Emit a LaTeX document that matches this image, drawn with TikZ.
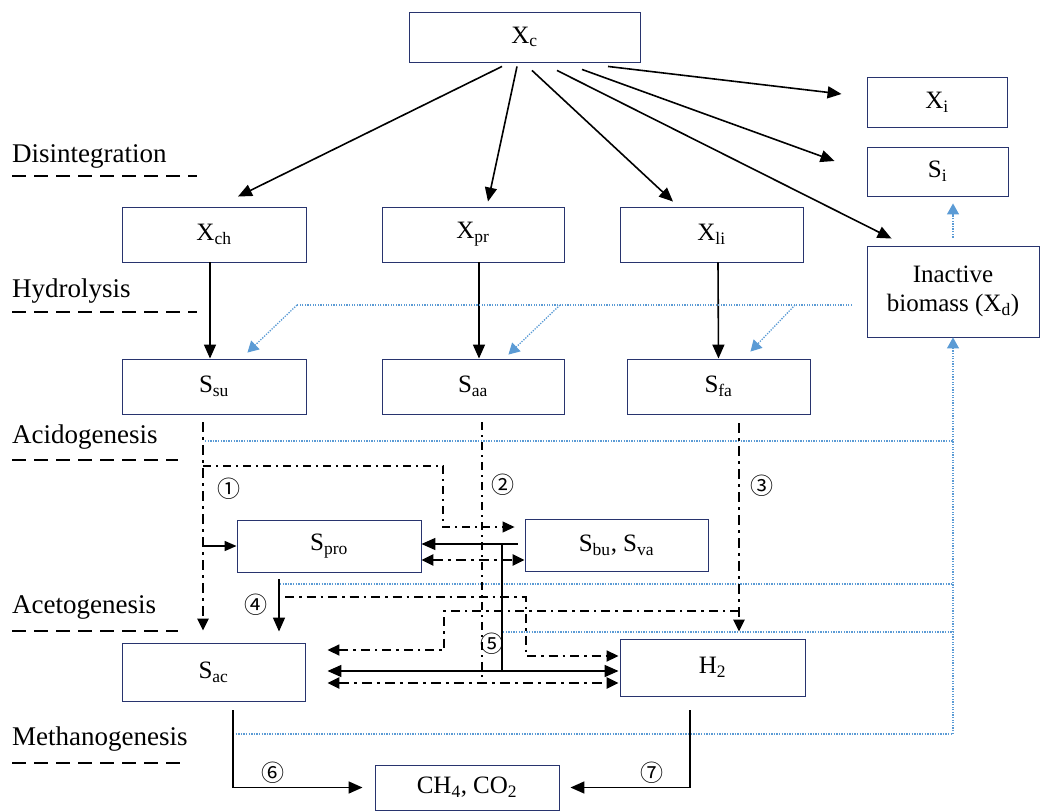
\documentclass[tikz,border=0pt]{standalone}
\usepackage{fontspec}
\setmainfont{Liberation Serif}
\newfontfamily\numfont{Noto Sans CJK SC}
\usetikzlibrary{calc,arrows.meta}
\definecolor{boxblue}{RGB}{40,52,110}
\definecolor{bioblue}{RGB}{91,155,213}
\tikzset{
    box/.style={draw=boxblue,line width=0.9pt,inner sep=0pt,minimum height=55pt,font=\fontsize{25}{29}\selectfont},
    phase/.style={font=\fontsize{27}{30}\selectfont,anchor=base west,inner sep=0pt},
    phaseline/.style={line width=2pt,dash pattern=on 14pt off 8pt},
    flow/.style={-{Triangle[length=14pt,width=12pt]},line width=1.6pt},
    smallflow/.style={-{Triangle[length=12pt,width=10pt]},line width=1.6pt},
    twoflow/.style={{Triangle[length=12pt,width=11pt]}-{Triangle[length=12pt,width=11pt]},line width=1.8pt},
    tipflow/.style={-{Triangle[length=12pt,width=11pt]}},
    dashdot/.style={line width=2.6pt,dash pattern=on 10pt off 5pt on 3pt off 5pt},
    thindashdot/.style={line width=1.2pt,dash pattern=on 8pt off 5pt on 2pt off 5pt},
    middashdot/.style={line width=1.8pt,dash pattern=on 9pt off 5pt on 2.5pt off 5pt},
    bio/.style={draw=bioblue,line width=1.3pt,dash pattern=on 1.3pt off 1.3pt},
    bioflow/.style={bio,-{Triangle[length=11pt,width=12pt]}},
    stepnum/.style={font=\numfont\fontsize{23}{24}\selectfont,inner sep=0pt}
}
\begin{document}
\begin{tikzpicture}[x=1pt,y=-1pt]
\useasboundingbox (0,0) rectangle (1041,811);
% phases
\node[phase] (dis) at (12,162) {Disintegration};
\node[phase] (hyd) at (12,297) {Hydrolysis};
\node[phase] (aci) at (12,443) {Acidogenesis};
\node[phase] (ace) at (12,613) {Acetogenesis};
\node[phase] (met) at (12,745) {Methanogenesis};
\draw[phaseline] (12,176)--(197,176);
\draw[phaseline] (12,312)--(197,312);
\draw[phaseline] (12,460)--(178,460);
\draw[phaseline] (12,631)--(178,631);
\draw[phaseline] (12,763)--(180,763);

% boxes
\node[box,minimum width=231pt,minimum height=50pt] (xc) at (524.5,37) {X\textsubscript{c}};
\node[box,minimum width=140pt,minimum height=50pt] (xi) at (937,102) {X\textsubscript{i}};
\node[box,minimum width=141pt,minimum height=49pt] (si) at (937.5,171.5) {S\textsubscript{i}};
\node[box,minimum width=172pt,minimum height=91pt,align=center] (xd) at (953,291.5) {Inactive\\biomass (X\textsubscript{d})};
\node[box,minimum width=184pt] (xch) at (214,234.5) {X\textsubscript{ch}};
\node[box,minimum width=182pt] (xpr) at (473,234.5) {X\textsubscript{pr}};
\node[box,minimum width=183pt] (xli) at (711.5,234.5) {X\textsubscript{li}};
\node[box,minimum width=184pt] (ssu) at (214,386.5) {S\textsubscript{su}};
\node[box,minimum width=182pt] (saa) at (473,386.5) {S\textsubscript{aa}};
\node[box,minimum width=183pt] (sfa) at (718.5,386.5) {S\textsubscript{fa}};
\node[box,minimum width=184pt,minimum height=52pt] (spro) at (329,546) {S\textsubscript{pro}};
\node[box,minimum width=183pt,minimum height=52pt] (sbu) at (616.5,545) {S\textsubscript{bu}, S\textsubscript{va}};
\node[box,minimum width=183pt,minimum height=58pt] (sac) at (213.5,672) {S\textsubscript{ac}};
\node[box,minimum width=185pt,minimum height=57pt] (h2) at (712.5,667.5) {H\textsubscript{2}};
\node[box,minimum width=184pt,minimum height=45pt] (ch4) at (467,787.5) {CH\textsubscript{4}, CO\textsubscript{2}};

% disintegration
\draw[flow] ([xshift=-22.5,yshift=-4]xc.south)--([xshift=24,yshift=10]xch.north);
\draw[flow] ([xshift=-7.5,yshift=-4]xc.south)--([xshift=15,yshift=5]xpr.north);
\draw[flow] ([xshift=7.5,yshift=-8]xc.south)--([xshift=-38.5,yshift=5]xli.north);
\draw[flow] ([xshift=32.5,yshift=-8]xc.south)--([xshift=25,yshift=7]xd.north west);
\draw[flow] ([xshift=57.5,yshift=-7]xc.south)--([xshift=-32,yshift=10.5]si.west);
\draw[flow] ([xshift=83.5,yshift=-4]xc.south)--([xshift=-25,yshift=8]xi.west);

% hydrolysis
\draw[flow] ([xshift=-4]xch.south)--([xshift=-4]ssu.north);
\draw[flow] ([xshift=6]xpr.south)--([xshift=6]saa.north);
\draw[flow] ([xshift=6.5]xli.south)--(sfa.north);

% decay of biomass
\coordinate (b0) at (852,305);
\coordinate (b1) at (297,305);
\coordinate (b2) at (560,305);
\coordinate (b3) at (795,305);
\draw[bio] (b0)--(b1);
\draw[bioflow] (b1)--([xshift=-59,yshift=6]ssu.north east);
\draw[bioflow] (b2)--([xshift=-56,yshift=4]saa.north east);
\draw[bioflow] (b3)--([xshift=-60,yshift=7]sfa.north east);
\draw[bioflow] ([yshift=8]xd.north)--($(xd.north|-si.south)+(0,7)$);
\coordinate (m0) at (233,734);
\coordinate (m1) at (xd.south|-m0);
\draw[bioflow] (m0)--(m1)--(xd.south);
\draw[bio] (205,441)--(xd.south|-0,441);
\draw[bio] (280,584)--(xd.south|-0,584);
\draw[bio] (503,632)--(xd.south|-0,632);

% acidogenesis
\coordinate (d1) at ([xshift=-11,yshift=-8]ssu.south);
\draw[dashdot,tipflow] (d1)--([xshift=-10.5,yshift=12]sac.north);
\draw[smallflow] (spro.west-|d1)--(spro.west);
\draw[thindashdot,tipflow] (d1|-0,466)-|(443,527)--([xshift=-10,yshift=18]sbu.west);
\draw[thindashdot] ([xshift=9,yshift=-8]saa.south)--++(0,261);
\draw[dashdot,tipflow] ([xshift=20.5,yshift=-9]sfa.south)--([xshift=26.5,yshift=7]h2.north);
\draw[middashdot,tipflow] (739,611)-|(444,650)--([xshift=22,yshift=22]sac.east);

% acetogenesis
\coordinate (j5) at (502,544);
\coordinate (k5) at (502,671);
\draw[flow] ([xshift=-7]sbu.west|-j5)--(spro.east|-j5);
\draw[line width=1.4pt] (j5)--(k5);
\draw[flow] (k5)--($(sac.east|-k5)+(22,0)$);
\draw[flow] (k5)--($(h2.west|-k5)+(-1,0)$);
\draw[twoflow,dashdot] ([yshift=-14]spro.east)--([yshift=-15]sbu.west);
\draw[twoflow,dashdot] ($(sac.east)+(22,11)$)--($(h2.west)+(-1,15.5)$);
\draw[flow] ([xshift=-50,yshift=-7]spro.south)--([xshift=65.5,yshift=11]sac.north);
\draw[middashdot,tipflow] (285,597)-|(526,656)--([xshift=-1,yshift=11.5]h2.west);

% methanogenesis
\draw[flow] ([xshift=19.5,yshift=-9]sac.south)|-([xshift=-12]ch4.west);
\draw[flow] ([xshift=-22.5,yshift=-14]h2.south)|-([xshift=11]ch4.east);

% steps
\node[stepnum] (n1) at (229,489) {①};
\node[stepnum] (n2) at (503,485) {②};
\node[stepnum] (n3) at (762,486) {③};
\node[stepnum] (n4) at (256,605) {④};
\node[stepnum] (n5) at (492,644) {⑤};
\node[stepnum] (n6) at (273,773) {⑥};
\node[stepnum] (n7) at (652,773) {⑦};
\end{tikzpicture}
\end{document}
